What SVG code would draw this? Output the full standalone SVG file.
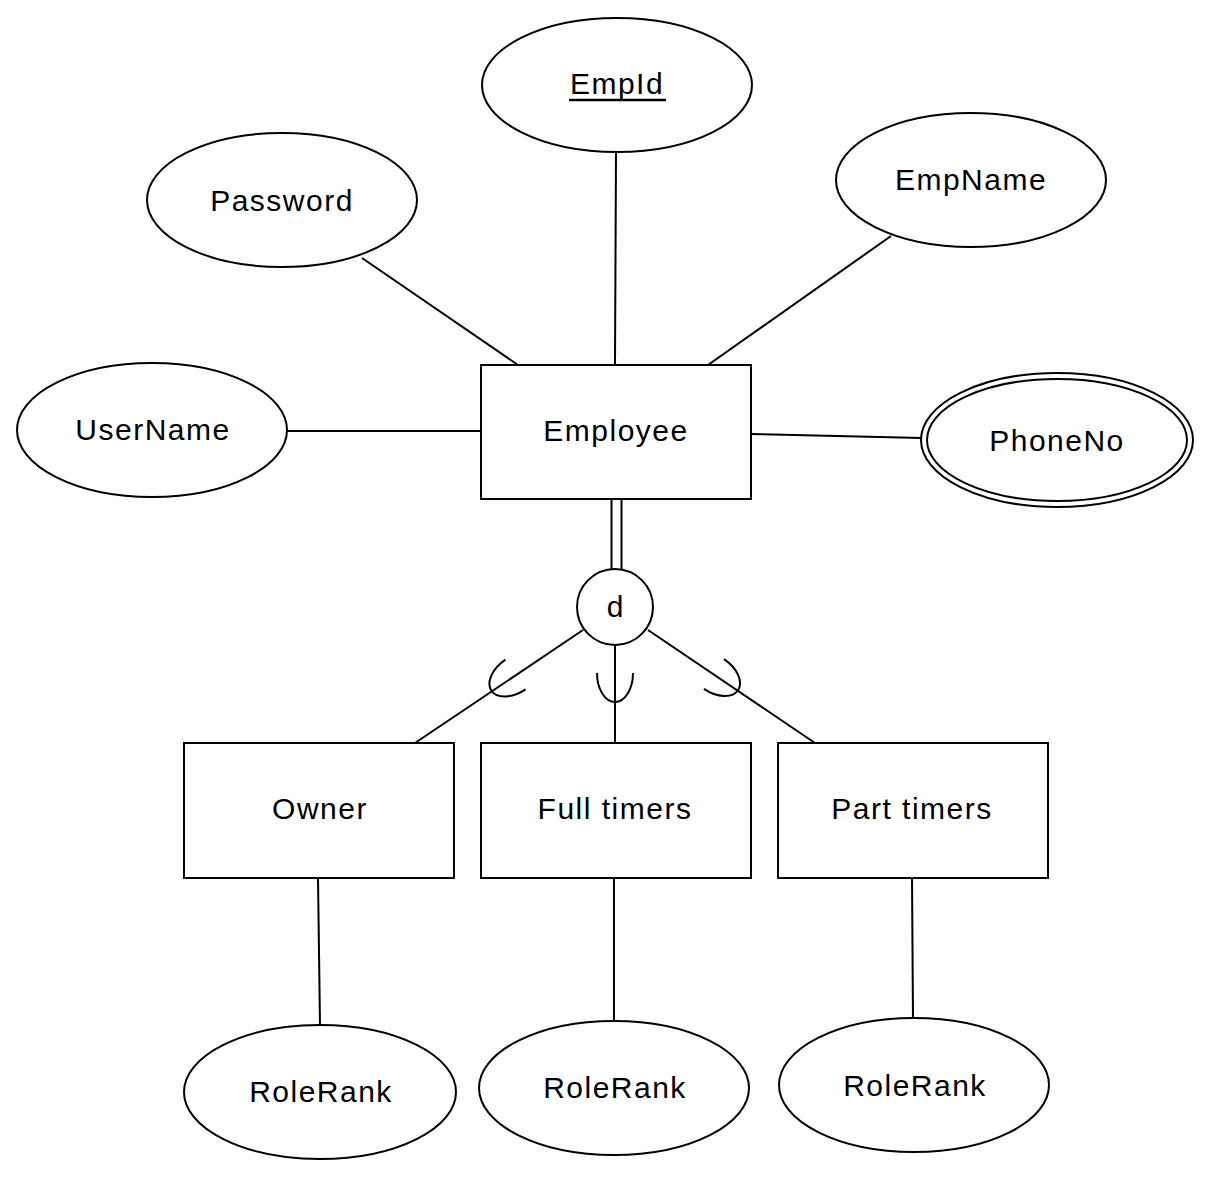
<svg xmlns="http://www.w3.org/2000/svg" width="1212" height="1180" viewBox="0 0 1212 1180">
<style>
.s{fill:#fff;stroke:#000;stroke-width:2}
.c{fill:none;stroke:#000;stroke-width:2}
.t{font-family:"Liberation Sans",Arial,sans-serif;font-size:30px;letter-spacing:1.5px;fill:#000;text-anchor:middle}
</style>
<rect width="1212" height="1180" fill="#fff"/>
<g id="connectors" class="c">
<line x1="362" y1="258" x2="518" y2="365"/>
<line x1="616" y1="152" x2="615" y2="365"/>
<line x1="891" y1="236" x2="708" y2="365"/>
<line x1="287" y1="431" x2="481" y2="431"/>
<line x1="751" y1="434" x2="922" y2="438"/>
<line x1="611.5" y1="499" x2="611.5" y2="570"/>
<line x1="621.5" y1="499" x2="621.5" y2="570"/>
<line x1="583" y1="630" x2="415" y2="743"/>
<line x1="615" y1="645" x2="615" y2="743"/>
<line x1="648" y1="630" x2="815" y2="743"/>
<path d="M-18,0 A18,29 0 0 0 18,0" transform="translate(515.5,674.5) rotate(56)"/>
<path d="M-18,0 A18,29 0 0 0 18,0" transform="translate(615,673)"/>
<path d="M-18,0 A18,29 0 0 0 18,0" transform="translate(714,674) rotate(-56)"/>
<line x1="318" y1="878" x2="320" y2="1025"/>
<line x1="614" y1="878" x2="614" y2="1020"/>
<line x1="912" y1="878" x2="913" y2="1018"/>
</g>
<g id="EmpId"><ellipse class="s" cx="617" cy="85" rx="135" ry="67"/><text class="t" x="617" y="94">EmpId</text><line x1="569" y1="100" x2="666" y2="100" stroke="#000" stroke-width="2.5"/></g>
<g id="Password"><ellipse class="s" cx="282" cy="200" rx="135" ry="67"/><text class="t" x="282" y="211">Password</text></g>
<g id="EmpName"><ellipse class="s" cx="971" cy="180" rx="135" ry="67"/><text class="t" x="971" y="190">EmpName</text></g>
<g id="UserName"><ellipse class="s" cx="152" cy="430" rx="135" ry="67"/><text class="t" x="153" y="440">UserName</text></g>
<g id="PhoneNo"><ellipse class="s" cx="1057" cy="440" rx="136" ry="67"/><ellipse class="s" cx="1057" cy="440" rx="130" ry="61"/><text class="t" x="1057" y="451">PhoneNo</text></g>
<g id="Employee"><rect class="s" x="481" y="365" width="270" height="134"/><text class="t" x="616" y="441">Employee</text></g>
<g id="d"><circle class="s" cx="615" cy="607" r="38"/><text class="t" x="615" y="617" style="letter-spacing:0">d</text></g>
<g id="Owner"><rect class="s" x="184" y="743" width="270" height="135"/><text class="t" x="320" y="819">Owner</text></g>
<g id="FullTimers"><rect class="s" x="481" y="743" width="270" height="135"/><text class="t" x="615" y="819">Full timers</text></g>
<g id="PartTimers"><rect class="s" x="778" y="743" width="270" height="135"/><text class="t" x="912" y="819">Part timers</text></g>
<g id="RoleRank1"><ellipse class="s" cx="320" cy="1092" rx="136" ry="67"/><text class="t" x="321" y="1102">RoleRank</text></g>
<g id="RoleRank2"><ellipse class="s" cx="614" cy="1088" rx="135" ry="67"/><text class="t" x="615" y="1098">RoleRank</text></g>
<g id="RoleRank3"><ellipse class="s" cx="914" cy="1085" rx="135" ry="67"/><text class="t" x="915" y="1096">RoleRank</text></g>
</svg>
